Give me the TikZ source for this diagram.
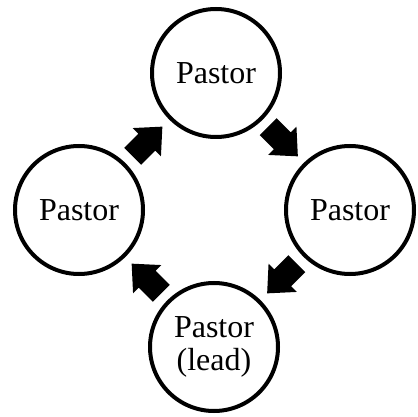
\documentclass[tikz,border=0pt]{standalone}
\usepackage{fontspec}
\setmainfont{Liberation Serif}
\usetikzlibrary{calc}

\tikzset{
  pastor/.style={circle, draw, line width=4pt, minimum size=128pt,
    inner sep=0pt, align=center, font=\fontsize{32}{33}\selectfont},
  blockarrow/.style={fill=black}
}

\begin{document}
\begin{tikzpicture}[x=1pt,y=-1pt]
  \useasboundingbox (0,0) rectangle (418,417);
  % the four pastors
  \node[pastor] (top)   at (216,73)  {Pastor};
  \node[pastor] (right) at (350,210) {Pastor};
  \node[pastor] (lead)  at (214,347) {Pastor\\(lead)};
  \node[pastor] (left)  at (79,210)  {Pastor};
  % block arrows half way between two circles
  \foreach \from/\to/\ang in {left/top/45, top/right/-45,
          right/lead/-135, lead/left/135}
  {\coordinate (mid) at ($(\from)!0.5!(\to)$);
  \fill[blockarrow, shift={(mid)}, rotate=\ang]
    (-21,-12) -- (-1,-12) -- (-1,-20) -- (21,0)
    -- (-1,20) -- (-1,12) -- (-21,12) -- cycle;}
\end{tikzpicture}
\end{document}
